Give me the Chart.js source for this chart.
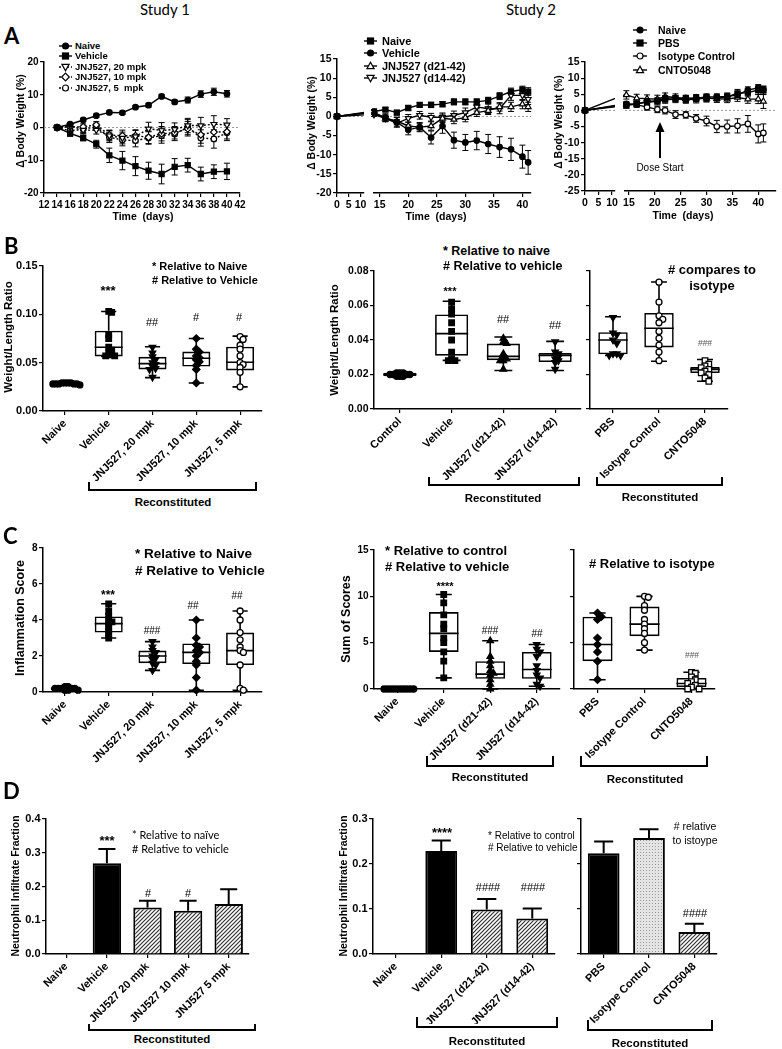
<!DOCTYPE html>
<html>
<head>
<meta charset="utf-8">
<script src="https://cdn.jsdelivr.net/npm/chart.js@4.4.1/dist/chart.umd.min.js"></script>
<style>
html,body{margin:0;padding:0;background:#fff;}
body{position:relative;width:782px;height:1049px;overflow:hidden;font-family:"Liberation Sans",Arial,sans-serif;}
canvas{position:absolute;}
.t{position:absolute;white-space:pre;line-height:1;color:#000;}
.br{position:absolute;box-sizing:border-box;border:2px solid #000;border-top:none;}
svg{position:absolute;overflow:visible;}
</style>
</head>
<body>
<script>
// ================= DATA =================
// Panel A, Study 1
const daysS1 = [14,16,18,20,22,24,26,28,30,32,34,36,38,40];
const s1Labels = ['Naive','Vehicle','JNJ527, 20 mpk','JNJ527, 10 mpk','JNJ527, 5  mpk'];
const s1Naive = [0,1.0,2.3,3.6,4.6,4.5,6.2,6.8,9.5,7.8,8.4,10.2,10.9,10.3];
const s1NaiveErr = [0,0.4,0.5,0.5,0.5,0.5,0.5,0.6,0.6,0.6,0.9,1.0,1.1,1.0];
const s1Vehicle = [0,-1.8,-3.2,-5.1,-8.5,-10.1,-11.8,-13.2,-14.2,-12.0,-11.5,-14.2,-13.5,-13.4];
const s1VehicleErr = [0,0.9,0.9,1.2,2.2,2.8,2.9,2.6,3.0,2.5,2.1,2.1,2.1,2.5];
const s1Jnj20 = [0,0.6,-0.8,-0.8,-2.5,-3.2,-2.8,-0.4,-0.9,-0.6,0.6,0.6,1.0,0.8];
const s1Jnj20Err = [0,0.6,1.0,1.2,1.6,1.8,1.9,2.0,2.4,2.0,2.2,2.5,2.6,1.9];
const s1Jnj10 = [0,0.2,0.2,0.8,-2.3,-2.5,-2.5,-3.0,-1.9,-1.6,-0.4,-2.2,-1.4,-1.3];
const s1Jnj10Err = [0,0.6,0.9,1.0,1.5,1.7,1.8,1.9,2.2,1.9,2.2,2.6,2.7,2.2];
const s1Jnj5 = [0,-1.0,-0.5,0.2,-3.0,-3.8,-4.0,-3.2,-2.5,-2.0,0.1,-3.2,-3.5,-1.6];
const s1Jnj5Err = [0,0.7,1.0,1.1,1.6,1.8,1.9,1.9,2.3,2.0,2.3,2.5,2.8,2.4];
const s1XTicks = [12,14,16,18,20,22,24,26,28,30,32,34,36,38,40,42];
const s1YTicks = [-20,-10,0,10,20];

// Panel A, Study 2 (left)
const daysS2 = [0,14,16,18,20,22,24,26,28,30,32,34,36,38,40,41];
const s2Labels = ['Naive','Vehicle','JNJ527 (d21-42)','JNJ527 (d14-42)'];
const s2Naive = [0,1.3,1.8,1.0,2.2,3.0,3.0,3.2,3.8,3.8,3.8,4.2,5.3,6.5,7.0,6.5];
const s2NaiveErr = [0,0.5,0.5,0.6,0.6,0.6,0.7,0.7,0.8,0.8,0.8,0.8,0.9,0.9,0.9,1.0];
const s2Vehicle = [0,1.0,-0.3,-1.5,-3.5,-2.8,-5.5,-2.5,-6.2,-6.8,-6.3,-7.2,-8.0,-8.6,-10.5,-12.0];
const s2VehicleErr = [0,0.5,1.0,1.2,1.3,1.2,1.7,1.9,2.1,2.1,2.4,2.5,2.7,2.9,3.0,3.1];
const s2JnjD21 = [0,1.0,-0.5,-1.2,-2.5,-2.8,-2.5,-0.5,-0.8,-0.3,1.0,1.5,2.5,2.5,3.2,2.5];
const s2JnjD21Err = [0,0.5,0.8,1.0,1.0,1.0,1.1,1.1,1.1,1.1,1.0,1.0,1.1,1.2,1.2,1.2];
const s2JnjD14 = [0,0.5,-0.5,-1.8,-0.5,0.3,-0.2,-0.2,0.3,1.0,2.5,2.0,2.0,5.5,5.5,4.5];
const s2JnjD14Err = [0,0.5,0.9,1.0,1.0,1.0,1.0,1.1,1.1,1.2,1.1,1.2,1.3,1.3,1.3,1.4];
const s2YTicks = [-20,-15,-10,-5,0,5,10,15];

// Panel A, Study 2 (right)
const daysS2b = [0,14.5,16.5,18.5,20.5,22,24,26,28,30,32,34,36,38,40,41];
const s2bLabels = ['Naive','PBS','Isotype Control','CNTO5048'];
const s2bNaive = [0,1.8,2.0,2.8,3.0,3.8,3.8,3.8,3.8,4.2,4.2,4.3,4.8,6.3,7.0,6.5];
const s2bNaiveErr = [0,0.6,0.7,0.7,0.7,0.8,0.8,0.8,0.8,0.9,0.9,0.9,0.9,1.0,1.0,1.0];
const s2bPbs = [0,1.5,2.0,2.5,2.8,3.3,3.5,3.3,3.5,3.8,3.8,4.2,5.3,5.5,6.3,6.2];
const s2bPbsErr = [0,0.8,1.0,1.0,1.1,1.1,1.1,1.1,1.2,1.2,1.2,1.2,1.2,1.3,1.3,1.3];
const s2bIso = [0,2.0,1.8,1.0,0.3,0.0,-1.3,-1.4,-2.5,-3.3,-5.0,-5.0,-4.8,-4.2,-7.3,-7.0];
const s2bIsoErr = [0,0.7,0.8,0.9,1.0,1.1,1.2,1.0,1.2,1.5,1.9,2.0,2.2,2.6,2.8,2.8];
const s2bCnto = [0,4.8,3.8,3.6,3.5,4.3,4.0,3.6,3.8,3.8,3.6,3.5,4.0,3.5,3.5,2.8];
const s2bCntoErr = [0,1.3,1.2,1.2,1.2,1.1,1.1,1.1,1.1,1.1,1.1,1.1,1.2,1.3,1.4,2.2];
const s2bYTicks = [-25,-20,-15,-10,-5,0,5,10,15];
const brokenLeftTicks = [0,5,10];
const brokenRightTicks = [15,20,25,30,35,40];

// Panel B
const b1Cats = ['Naive','Vehicle','JNJ527, 20 mpk','JNJ527, 10 mpk','JNJ527, 5 mpk'];
const b1Points = [
  [0.029,0.028,0.029,0.028,0.028,0.029,0.027,0.028,0.029,0.028],
  [0.103,0.102,0.079,0.075,0.066,0.063,0.060,0.058,0.057,0.057],
  [0.066,0.060,0.056,0.053,0.050,0.048,0.046,0.044,0.043,0.035],
  [0.075,0.064,0.061,0.057,0.055,0.053,0.051,0.047,0.043,0.029],
  [0.077,0.074,0.068,0.064,0.057,0.050,0.048,0.045,0.040,0.025]
];
const b1Q1 = [0.0275,0.0565,0.0430,0.0460,0.0420];
const b1Med = [0.0283,0.0660,0.0490,0.0545,0.0505];
const b1Q3 = [0.0290,0.0830,0.0560,0.0615,0.0665];
const b1Min = [0.0270,0.0565,0.0345,0.0290,0.0250];
const b1Max = [0.0295,0.1030,0.0665,0.0750,0.0775];
const b1YTicks = [0,0.05,0.10,0.15];

const b2Cats = ['Control','Vehicle','JNJ527 (d21-42)','JNJ527 (d14-42)'];
const b2Points = [
  [0.021,0.020,0.019,0.021,0.020,0.019,0.020,0.021,0.019,0.020],
  [0.062,0.058,0.055,0.050,0.045,0.040,0.033,0.029,0.028,0.028],
  [0.041,0.039,0.038,0.032,0.030,0.029,0.028,0.028,0.023],
  [0.039,0.033,0.032,0.031,0.030,0.029,0.028,0.027,0.023]
];
const b2Q1 = [0.0190,0.0309,0.0283,0.0272];
const b2Med = [0.0200,0.0437,0.0305,0.0310];
const b2Q3 = [0.0210,0.0548,0.0379,0.0324];
const b2Min = [0.0185,0.0282,0.0223,0.0223];
const b2Max = [0.0215,0.0625,0.0417,0.0392];

const b3Cats = ['PBS','Isotype Control','CNTO5048'];
const b3Points = [
  [0.053,0.044,0.043,0.040,0.038,0.032,0.032,0.031,0.031],
  [0.0735,0.062,0.054,0.052,0.050,0.045,0.041,0.037,0.033,0.028],
  [0.028,0.026,0.025,0.024,0.023,0.022,0.021,0.020,0.018,0.016]
];
const b3Q1 = [0.0317,0.0357,0.0208];
const b3Med = [0.0400,0.0468,0.0230];
const b3Q3 = [0.0445,0.0557,0.0243];
const b3Min = [0.0310,0.0277,0.0161];
const b3Max = [0.0535,0.0736,0.0287];
const b2YTicks = [0,0.02,0.04,0.06,0.08];

// Panel C
const c1Cats = ['Naive','Vehicle','JNJ527, 20 mpk','JNJ527, 10 mpk','JNJ527, 5 mpk'];
const c1Points = [
  [0.1,0.2,0.3,0.2,0.2,0.1,0.3,0.2,0.1,0.2],
  [4.9,4.5,4.2,4.0,3.9,3.8,3.6,3.4,3.2,3.0],
  [2.8,2.5,2.3,2.2,2.0,1.9,1.8,1.6,1.5,1.2],
  [4.0,3.0,2.6,2.5,2.3,2.2,2.0,1.7,1.5,0.8,0.1],
  [4.5,4.0,3.3,2.9,2.5,2.3,2.2,1.5,0.2,0.1]
];
const c1Q1 = [0.1,3.3,1.6,1.55,1.5];
const c1Med = [0.2,3.8,2.0,2.2,2.3];
const c1Q3 = [0.25,4.2,2.3,2.7,3.3];
const c1Min = [0.1,3.0,1.2,0.1,0.1];
const c1Max = [0.3,4.9,2.8,4.0,4.5];
const c1YTicks = [0,2,4,6,8];

const c2Cats = ['Naive','Vehicle','JNJ527 (d21-42)','JNJ527 (d14-42)'];
const c2Points = [
  [0,0,0,0,0,0,0,0,0,0],
  [10.2,9.3,8.0,7.0,6.5,5.5,5.0,4.0,3.0,1.2],
  [5.2,3.5,3.0,2.5,2.0,1.7,1.5,1.0,0.5,0.0],
  [4.8,4.3,4.0,3.5,2.5,2.0,1.5,1.2,0.5,0.3]
];
const c2Q1 = [0,4.0,1.1,1.1];
const c2Med = [0,6.0,1.6,2.1];
const c2Q3 = [0,8.3,3.0,4.0];
const c2Min = [0,1.2,0.0,0.3];
const c2Max = [0,10.2,5.2,4.8];

const c3Cats = ['PBS','Isotype Control','CNTO5048'];
const c3Points = [
  [8.2,7.8,7.5,5.5,4.8,4.0,3.0,1.0],
  [10.0,9.9,9.0,8.5,7.5,7.0,6.5,6.0,5.0,4.2],
  [1.8,1.7,1.3,1.0,0.8,0.6,0.4,0.2,0.0,0.0]
];
const c3Q1 = [3.0,5.7,0.2];
const c3Med = [4.8,7.0,0.6];
const c3Q3 = [7.8,8.9,1.2];
const c3Min = [1.0,4.2,0.0];
const c3Max = [8.2,10.0,1.8];
const c2YTicks = [0,5,10,15];

// Panel D
const d1Cats = ['Naive','Vehicle','JNJ527 20 mpk','JNJ527 10 mpk','JNJ527 5 mpk'];
const d1Vals = [0,0.269,0.138,0.128,0.148];
const d1Err = [0,0.042,0.020,0.030,0.044];
const d1YTicks = [0,0.1,0.2,0.3,0.4];
const d2Cats = ['Naive','Vehicle','JNJ527 (d21-42)','JNJ527 (d14-42)'];
const d2Vals = [0,0.229,0.099,0.079];
const d2Err = [0,0.023,0.023,0.022];
const d3Cats = ['PBS','Isotype Control','CNTO5048'];
const d3Vals = [0.224,0.258,0.049];
const d3Err = [0.026,0.019,0.018];
const d2YTicks = [0,0.1,0.2,0.3];

// ================= RENDER =================
const FONT = '"Liberation Sans", Arial, sans-serif';
const LATO = 'Lato, "Open Sans", sans-serif';
Chart.defaults.font.family = FONT;
Chart.defaults.font.weight = 'bold';
Chart.defaults.color = '#000';
Chart.defaults.animation = false;
Chart.defaults.responsive = false;
Chart.defaults.events = [];
Chart.defaults.plugins.legend.display = false;
Chart.defaults.plugins.tooltip.enabled = false;

const PS = {circle:['circle',0,3], rect:['rect',0,3.9], tri:['triangle',0,3.7], tridown:['triangle',180,3.7], diamond:['rectRot',0,3.7]};

function mk(p, m) {
  const c = document.createElement('canvas');
  const w = p.r - p.l + m.l + m.r, h = p.b - p.t + m.t + m.b;
  c.width = w; c.height = h;
  c.style.left = (p.l - m.l) + 'px'; c.style.top = (p.t - m.t) + 'px';
  c.style.width = w + 'px'; c.style.height = h + 'px';
  document.body.appendChild(c);
  return c;
}
function gridOpt() { return {display:true, drawOnChartArea:false, drawTicks:true, tickLength:4, color:'#000', lineWidth:1.2, offset:false}; }
function borderOpt() { return {display:true, color:'#000', width:1.5}; }
function axisX(m, o) {
  const a = {
    type: o.type || 'linear', offset: !!o.offset,
    afterFit: s => { s.height = m.b; },
    border: borderOpt(), grid: gridOpt(),
    ticks: {color:'#000', padding: o.pad != null ? o.pad : 2, autoSkip:false, maxRotation:o.rot||0, minRotation:o.rot||0,
            font:{size:o.fs||11, weight:'bold', family:FONT}}
  };
  if (o.min != null) a.min = o.min;
  if (o.max != null) a.max = o.max;
  if (o.ticks) a.afterBuildTicks = s => { s.ticks = o.ticks.map(v => ({value:v})); };
  if (o.cb) a.ticks.callback = o.cb;
  return a;
}
function axisY(m, o) {
  const a = {
    type:'linear', min:o.min, max:o.max, display: o.display !== false,
    afterBuildTicks: s => { s.ticks = o.ticks.map(v => ({value:v})); },
    border: borderOpt(), grid: gridOpt(),
    ticks: {display: o.labels !== false, color:'#000', padding:1.5, font:{size:o.fs||11, weight:'bold', family:FONT},
            callback: o.cb || (v => String(v))}
  };
  if (o.display !== false) a.afterFit = s => { s.width = m.l; };
  return a;
}

const zeroLine = {id:'zeroLine', beforeDatasetsDraw(chart) {
  const {ctx, chartArea:a} = chart; const py = chart.scales.y.getPixelForValue(0);
  ctx.save(); ctx.strokeStyle = '#9a9a9a'; ctx.lineWidth = 1; ctx.setLineDash([2,2]);
  ctx.beginPath(); ctx.moveTo(a.left, py); ctx.lineTo(a.right, py); ctx.stroke(); ctx.restore();
}};
const errPlugin = {id:'errbars', beforeDatasetsDraw(chart) {
  const {ctx} = chart; const xs = chart.scales.x, ys = chart.scales.y;
  ctx.save(); ctx.strokeStyle = '#000'; ctx.lineWidth = 1;
  chart.data.datasets.forEach(ds => {
    if (!ds.errors) return;
    ds.data.forEach((p, i) => {
      const e = ds.errors[i]; if (!e) return;
      if (p.x < xs.min || p.x > xs.max) return;
      const px = xs.getPixelForValue(p.x), y1 = ys.getPixelForValue(p.y - e), y2 = ys.getPixelForValue(p.y + e);
      ctx.beginPath(); ctx.moveTo(px, y1); ctx.lineTo(px, y2);
      ctx.moveTo(px-3, y1); ctx.lineTo(px+3, y1); ctx.moveTo(px-3, y2); ctx.lineTo(px+3, y2); ctx.stroke();
    });
  });
  ctx.restore();
}};
const boxPlugin = {id:'boxw', afterDatasetDraw(chart, args) {
  const ds = chart.data.datasets[args.index];
  if (!ds.medians) return;
  const ys = chart.scales.y, ctx = chart.ctx;
  ctx.save(); ctx.strokeStyle = '#000'; ctx.lineWidth = 1.6;
  args.meta.data.forEach((bar, i) => {
    const x = bar.x, hw = bar.width/2, cw = bar.width*0.27;
    const yq1 = ys.getPixelForValue(ds.data[i].y[0]), yq3 = ys.getPixelForValue(ds.data[i].y[1]);
    const ym = ys.getPixelForValue(ds.medians[i]), ymin = ys.getPixelForValue(ds.mins[i]), ymax = ys.getPixelForValue(ds.maxs[i]);
    ctx.beginPath();
    ctx.moveTo(x-hw, ym); ctx.lineTo(x+hw, ym);
    ctx.moveTo(x, yq3); ctx.lineTo(x, ymax); ctx.moveTo(x-cw, ymax); ctx.lineTo(x+cw, ymax);
    ctx.moveTo(x, yq1); ctx.lineTo(x, ymin); ctx.moveTo(x-cw, ymin); ctx.lineTo(x+cw, ymin);
    ctx.stroke();
  });
  ctx.restore();
}};
const barErr = {id:'barErr', afterDatasetsDraw(chart) {
  const ctx = chart.ctx, ys = chart.scales.y;
  chart.data.datasets.forEach((ds, di) => {
    if (!ds.errors) return;
    chart.getDatasetMeta(di).data.forEach((bar, i) => {
      const e = ds.errors[i], v = ds.data[i]; if (!e) return;
      const x = bar.x, w = bar.width, y0 = ys.getPixelForValue(v), y1 = ys.getPixelForValue(v + e);
      ctx.save(); ctx.strokeStyle = '#000'; ctx.lineWidth = 2;
      ctx.beginPath(); ctx.moveTo(x, y0); ctx.lineTo(x, y1); ctx.moveTo(x - w*0.3, y1); ctx.lineTo(x + w*0.3, y1); ctx.stroke();
      ctx.restore();
    });
  });
}};

function lineChart(p, m, o) {
  const c = mk(p, m);
  const datasets = o.series.map(s => {
    const st = PS[s.shape];
    return {
      type:'line', data: o.days.map((d, i) => ({x:d, y:s.v[i]})), errors: s.e,
      borderColor:'#000', borderWidth:1.4, borderDash: s.dash ? [2,2] : [],
      pointStyle: st[0], pointRotation: st[1], pointRadius: st[2]*0.92,
      pointBackgroundColor: s.fill ? '#000' : '#fff', pointBorderColor:'#000', pointBorderWidth:1.2,
      tension:0, fill:false, clip: o.clip
    };
  });
  return new Chart(c, {
    type:'line', data:{datasets},
    options:{
      layout:{padding:{left: o.showY ? 0 : m.l, right:m.r, top:m.t, bottom:0}},
      scales:{
        x: axisX(m, {min:o.xMin, max:o.xMax, ticks:o.xTicks, fs:o.fs||10.5, pad:2}),
        y: axisY(m, {min:o.yMin, max:o.yMax, ticks:o.yTicks, display:o.showY, fs:o.fs||10.5})
      }
    },
    plugins:[zeroLine, errPlugin]
  });
}

function swarm(vals, pxY, pxX, step, maxOff) {
  const placed = [], out = new Array(vals.length);
  const order = vals.map((v, i) => i).sort((a, b) => vals[b] - vals[a]);
  order.forEach(i => {
    const y = vals[i] * pxY;
    let off = 0;
    for (let k = 0; k < 60; k++) {
      off = k === 0 ? 0 : (k % 2 ? 1 : -1) * Math.ceil(k/2) * step;
      if (!placed.some(q => Math.hypot(q.x - off, q.y - y) < step * 0.999)) break;
    }
    off = Math.max(-maxOff, Math.min(maxOff, off));
    placed.push({x:off, y}); out[i] = off / pxX;
  });
  return out;
}

function boxChart(p, m, o) {
  const c = mk(p, m);
  const n = o.labels.length;
  const pxY = (p.b - p.t) / (o.yMax - o.yMin), pxX = (p.r - p.l) / n;
  const datasets = [];
  o.points.forEach((vals, i) => {
    const st = PS[o.shapes[i]];
    const offs = swarm(vals, pxY, pxX, o.step || 3.3, 0.36 * pxX);
    datasets.push({type:'scatter', data: vals.map((v, k) => ({x: i + offs[k], y: v})),
      pointStyle: st[0], pointRotation: st[1], pointRadius: st[2],
      pointBackgroundColor: o.fills[i] ? '#000' : '#fff', pointBorderColor:'#000', pointBorderWidth:1.3,
      order:1, clip:false});
  });
  datasets.push({type:'bar', data: o.labels.map((_, i) => ({x:i, y:[o.q1[i], o.q3[i]]})),
    medians:o.med, mins:o.min, maxs:o.max,
    backgroundColor:'rgba(255,255,255,0)', borderColor:'#000', borderWidth:1.6, borderSkipped:false,
    barPercentage:0.64, categoryPercentage:1, order:10});
  return new Chart(c, {
    type:'scatter', data:{datasets},
    options:{
      layout:{padding:{left:0, right:m.r, top:m.t, bottom:0}},
      scales:{
        x: axisX(m, {min:-0.5, max:n-0.5, ticks:o.labels.map((_, i) => i), rot:45, cb: v => o.labels[v], fs:11, pad:2}),
        y: axisY(m, {min:o.yMin, max:o.yMax, ticks:o.yTicks, labels:o.yLabels !== false, cb:o.yFmt, fs:o.yfs||11})
      }
    },
    plugins:[boxPlugin]
  });
}

function hatchPattern(ctx) {
  const pc = document.createElement('canvas'); pc.width = pc.height = 4;
  const g = pc.getContext('2d'); g.fillStyle = '#fff'; g.fillRect(0, 0, 4, 4);
  g.strokeStyle = '#333'; g.lineWidth = 1.2;
  g.beginPath(); g.moveTo(0, 4); g.lineTo(4, 0); g.moveTo(-1, 1); g.lineTo(1, -1); g.moveTo(3, 5); g.lineTo(5, 3); g.stroke();
  return ctx.createPattern(pc, 'repeat');
}
function stipplePattern(ctx) {
  const pc = document.createElement('canvas'); pc.width = pc.height = 3;
  const g = pc.getContext('2d'); g.fillStyle = '#e4e4e4'; g.fillRect(0, 0, 3, 3);
  g.fillStyle = '#9a9a9a'; g.fillRect(1, 1, 1, 1);
  return ctx.createPattern(pc, 'repeat');
}
function barChart(p, m, o) {
  const c = mk(p, m);
  const ctx = c.getContext('2d');
  const fills = o.fills.map(f => f === 'solid' ? '#000' : f === 'hatch' ? hatchPattern(ctx) : stipplePattern(ctx));
  return new Chart(c, {
    type:'bar',
    data:{labels:o.labels, datasets:[{data:o.v, errors:o.e, backgroundColor:fills, borderColor:'#000', borderWidth:2,
      borderSkipped:'start', barPercentage:0.7, categoryPercentage:1}]},
    options:{
      layout:{padding:{left:0, right:m.r, top:m.t, bottom:0}},
      scales:{
        x: axisX(m, {type:'category', offset:true, rot:45, fs:11, pad:2}),
        y: axisY(m, {min:0, max:o.yMax, ticks:o.yTicks, labels:o.yLabels !== false, cb: v => v.toFixed(1), fs:11})
      }
    },
    plugins:[barErr]
  });
}

// ---------- text helpers ----------
function T(text, x, y, o = {}) {
  const d = document.createElement('div');
  d.className = 't'; d.textContent = text;
  const s = d.style;
  s.left = x + 'px'; s.top = y + 'px';
  s.fontSize = (o.size || 11) + 'px';
  s.fontWeight = o.bold === false ? 'normal' : 'bold';
  if (o.font) s.fontFamily = o.font;
  if (o.color) s.color = o.color;
  const ax = o.align === 'left' ? '0' : (o.align === 'right' ? '-100%' : '-50%');
  s.transform = 'translate(' + ax + ',-50%)' + (o.rot ? ' rotate(' + o.rot + 'deg)' : '');
  document.body.appendChild(d);
}
function bracket(l, r, t, b) {
  const d = document.createElement('div'); d.className = 'br';
  d.style.left = l + 'px'; d.style.top = t + 'px'; d.style.width = (r - l) + 'px'; d.style.height = (b - t) + 'px';
  document.body.appendChild(d);
}
function shapeSVG(shape, x, y, fill) {
  const st = 'fill="' + (fill ? '#000' : '#fff') + '" stroke="#000" stroke-width="1.2"';
  if (shape === 'circle') return '<circle cx="'+x+'" cy="'+y+'" r="3" '+st+'/>';
  if (shape === 'rect') return '<rect x="'+(x-3)+'" y="'+(y-3)+'" width="6" height="6" '+st+'/>';
  if (shape === 'tri') return '<polygon points="'+x+','+(y-3.8)+' '+(x-3.6)+','+(y+2.6)+' '+(x+3.6)+','+(y+2.6)+'" '+st+'/>';
  if (shape === 'tridown') return '<polygon points="'+x+','+(y+3.8)+' '+(x-3.6)+','+(y-2.6)+' '+(x+3.6)+','+(y-2.6)+'" '+st+'/>';
  return '<polygon points="'+x+','+(y-3.8)+' '+(x+3.8)+','+y+' '+x+','+(y+3.8)+' '+(x-3.8)+','+y+'" '+st+'/>';
}
function legend(series, labels, x1, x2, tx, y0, dy, fs) {
  series.forEach((s, k) => {
    const y = y0 + k * dy, w = x2 - x1;
    const svg = document.createElementNS('http://www.w3.org/2000/svg', 'svg');
    svg.setAttribute('width', w); svg.setAttribute('height', 12);
    svg.style.left = x1 + 'px'; svg.style.top = (y - 6) + 'px';
    svg.innerHTML = '<line x1="0" y1="6" x2="'+w+'" y2="6" stroke="#000" stroke-width="1.4"'+(s.dash?' stroke-dasharray="2,2"':'')+'/>' + shapeSVG(s.shape, w/2, 6, s.fill);
    document.body.appendChild(svg);
    T(labels[k], tx, y, {size:fs, align:'left'});
  });
}

// ---------- Panel A ----------
const s1Series = [
  {v:s1Naive, e:s1NaiveErr, shape:'circle', fill:true},
  {v:s1Vehicle, e:s1VehicleErr, shape:'rect', fill:true},
  {v:s1Jnj20, e:s1Jnj20Err, shape:'tridown', fill:false, dash:true},
  {v:s1Jnj10, e:s1Jnj10Err, shape:'diamond', fill:false, dash:true},
  {v:s1Jnj5, e:s1Jnj5Err, shape:'circle', fill:false, dash:true}
];
lineChart({l:44, t:62, r:240, b:193}, {l:44, t:10, r:10, b:24},
  {days:daysS1, series:s1Series, xMin:12, xMax:42, xTicks:s1XTicks, yMin:-20, yMax:20, yTicks:s1YTicks, showY:true, fs:10, clip:4});

const s2Series = [
  {v:s2Naive, e:s2NaiveErr, shape:'rect', fill:true},
  {v:s2Vehicle, e:s2VehicleErr, shape:'circle', fill:true},
  {v:s2JnjD21, e:s2JnjD21Err, shape:'tri', fill:false},
  {v:s2JnjD14, e:s2JnjD14Err, shape:'tridown', fill:false}
];
lineChart({l:337, t:59, r:364, b:193}, {l:40, t:10, r:6, b:24},
  {days:daysS2, series:s2Series, xMin:0, xMax:11.5, xTicks:brokenLeftTicks, yMin:-20, yMax:15, yTicks:s2YTicks, showY:true,
   clip:{left:6, right:0, top:6, bottom:6}});
lineChart({l:374, t:59, r:531, b:193}, {l:8, t:10, r:8, b:24},
  {days:daysS2, series:s2Series, xMin:14, xMax:41.5, xTicks:brokenRightTicks, yMin:-20, yMax:15, yTicks:s2YTicks, showY:false,
   clip:{left:2, right:6, top:6, bottom:6}});

const s2bSeries = [
  {v:s2bNaive, e:s2bNaiveErr, shape:'circle', fill:true},
  {v:s2bPbs, e:s2bPbsErr, shape:'rect', fill:true},
  {v:s2bIso, e:s2bIsoErr, shape:'circle', fill:false},
  {v:s2bCnto, e:s2bCntoErr, shape:'tri', fill:false}
];
lineChart({l:585, t:62, r:615, b:191}, {l:40, t:10, r:6, b:24},
  {days:daysS2b, series:s2bSeries, xMin:0, xMax:11.1, xTicks:brokenLeftTicks, yMin:-25, yMax:15, yTicks:s2bYTicks, showY:true,
   clip:{left:6, right:0, top:6, bottom:6}});
lineChart({l:625, t:62, r:779, b:191}, {l:8, t:10, r:2, b:24},
  {days:daysS2b, series:s2bSeries, xMin:14.24, xMax:43.4, xTicks:brokenRightTicks, yMin:-25, yMax:15, yTicks:s2bYTicks, showY:false,
   clip:{left:2, right:6, top:6, bottom:6}});

// ---------- Panel B ----------
const fmt2 = v => v.toFixed(2);
boxChart({l:43, t:266, r:262, b:411}, {l:43, t:10, r:8, b:70},
  {labels:b1Cats, points:b1Points, shapes:['circle','rect','tridown','diamond','circle'], fills:[1,1,1,1,0],
   q1:b1Q1, med:b1Med, q3:b1Q3, min:b1Min, max:b1Max, yMin:0, yMax:0.15, yTicks:b1YTicks, yFmt:fmt2, step:3});
boxChart({l:374, t:271, r:581, b:409}, {l:44, t:10, r:6, b:80},
  {labels:b2Cats, points:b2Points, shapes:['circle','rect','tri','tridown'], fills:[1,1,1,1],
   q1:b2Q1, med:b2Med, q3:b2Q3, min:b2Min, max:b2Max, yMin:0, yMax:0.08, yTicks:b2YTicks, yFmt:fmt2, yfs:10.5});
boxChart({l:590, t:271, r:728, b:409}, {l:8, t:10, r:8, b:80},
  {labels:b3Cats, points:b3Points, shapes:['tridown','circle','rect'], fills:[1,0,0],
   q1:b3Q1, med:b3Med, q3:b3Q3, min:b3Min, max:b3Max, yMin:0, yMax:0.08, yTicks:b2YTicks, yLabels:false, step:3.8});

// ---------- Panel C ----------
boxChart({l:43, t:548, r:262, b:692}, {l:43, t:10, r:8, b:80},
  {labels:c1Cats, points:c1Points, shapes:['circle','rect','tridown','diamond','circle'], fills:[1,1,1,1,0],
   q1:c1Q1, med:c1Med, q3:c1Q3, min:c1Min, max:c1Max, yMin:0, yMax:8, yTicks:c1YTicks, yfs:10});
boxChart({l:374, t:550, r:560, b:689}, {l:44, t:10, r:6, b:80},
  {labels:c2Cats, points:c2Points, shapes:['circle','rect','tri','tridown'], fills:[1,1,1,1],
   q1:c2Q1, med:c2Med, q3:c2Q3, min:c2Min, max:c2Max, yMin:0, yMax:15, yTicks:c2YTicks, yfs:10});
boxChart({l:574, t:550, r:715, b:689}, {l:8, t:10, r:8, b:80},
  {labels:c3Cats, points:c3Points, shapes:['diamond','circle','rect'], fills:[1,0,0],
   q1:c3Q1, med:c3Med, q3:c3Q3, min:c3Min, max:c3Max, yMin:0, yMax:15, yTicks:c2YTicks, yLabels:false, step:3.8});

// ---------- Panel D ----------
barChart({l:46, t:819, r:249, b:954}, {l:46, t:10, r:8, b:70},
  {labels:d1Cats, v:d1Vals, e:d1Err, fills:['solid','solid','hatch','hatch','hatch'], yMax:0.4, yTicks:d1YTicks});
barChart({l:373, t:819, r:555, b:954}, {l:44, t:10, r:6, b:70},
  {labels:d2Cats, v:d2Vals, e:d2Err, fills:['solid','solid','hatch','hatch'], yMax:0.3, yTicks:d2YTicks});
barChart({l:581, t:819, r:717, b:954}, {l:8, t:10, r:8, b:70},
  {labels:d3Cats, v:d3Vals, e:d3Err, fills:['solid','stipple','hatch'], yMax:0.3, yTicks:d2YTicks, yLabels:false});

// ---------- Texts ----------
T('Study 1', 165, 8.5, {size:15, bold:false, font:LATO});
T('Study 2', 531, 8.5, {size:15, bold:false, font:LATO});
T('A', 4, 35.5, {size:22, font:LATO, align:'left'});
T('B', 4, 245.5, {size:22, font:LATO, align:'left'});
T('C', 3, 536, {size:22, font:LATO, align:'left'});
T('D', 3, 791, {size:22, font:LATO, align:'left'});

// A
T('Time  (days)', 143, 216, {size:10.5});
T('Time  (days)', 436, 216, {size:10.5});
T('Time  (days)', 683, 215, {size:10.5});
T('\u0394 Body Weight (%)', 20, 121, {size:10.5, rot:-90});
T('\u0394 Body Weight (%)', 311, 123, {size:10.5, rot:-90});
T('\u0394 Body Weight (%)', 558, 122, {size:10.5, rot:-90});
legend(s1Series, s1Labels, 59, 72, 75, 46, 10.4, 9.5);
legend(s2Series, s2Labels, 364, 377, 382, 41, 12.3, 11);
legend(s2bSeries, s2bLabels, 633, 647, 658, 30, 13.2, 10.5);
(function(){
  const svg = document.createElementNS('http://www.w3.org/2000/svg', 'svg');
  svg.setAttribute('width', 16); svg.setAttribute('height', 40);
  svg.style.left = '652px'; svg.style.top = '120px';
  svg.innerHTML = '<line x1="8" y1="9" x2="8" y2="38" stroke="#000" stroke-width="2"/><polygon points="8,2 3.5,12 12.5,12" fill="#000"/>';
  document.body.appendChild(svg);
})();
T('Dose Start', 660, 168, {size:10, bold:false});

// B
T('Weight/Length Ratio', 9, 337, {size:11.5, rot:-90});
T('Weight/Length Ratio', 335, 340, {size:11.5, rot:-90});
T('* Relative to Naive', 152, 266, {size:11, align:'left'});
T('# Relative to Vehicle', 152, 280, {size:11, align:'left'});
T('***', 108, 290, {size:13});
T('##', 152, 322, {size:11, bold:false});
T('#', 196, 317, {size:11, bold:false});
T('#', 239, 317, {size:11, bold:false});
T('* Relative to naive', 443, 251, {size:12.5, align:'left'});
T('# Relative to vehicle', 443, 266, {size:12.5, align:'left'});
T('***', 450, 291, {size:11});
T('##', 503, 319, {size:11, bold:false});
T('##', 555, 325, {size:11, bold:false});
T('# compares to', 712, 269, {size:13});
T('isotype', 712, 285, {size:13});
T('###', 705, 343, {size:8.5, bold:false, color:'#555'});
bracket(88, 257, 482, 491);
T('Reconstituted', 173, 503, {size:11.5});
bracket(428, 580, 477, 486);
T('Reconstituted', 503, 499, {size:11.5});
bracket(596, 723, 477, 486);
T('Reconstituted', 660, 498, {size:11.5});

// C
T('Inflammation Score', 20, 618, {size:12.5, rot:-90});
T('Sum of Scores', 346, 619, {size:12.5, rot:-90});
T('* Relative to Naive', 135, 554, {size:13.5, align:'left'});
T('# Relative to Vehicle', 135, 571, {size:13.5, align:'left'});
T('***', 108, 595, {size:12});
T('###', 152, 631, {size:10, bold:false});
T('##', 193, 606, {size:10, bold:false});
T('##', 237, 596, {size:10, bold:false});
T('* Relative to control', 385, 550, {size:13, align:'left'});
T('# Relative to vehicle', 385, 566, {size:13, align:'left'});
T('****', 445, 586, {size:11});
T('###', 490, 631, {size:10, bold:false});
T('##', 537, 634, {size:10, bold:false});
T('# Relative to isotype', 589, 563, {size:13, align:'left'});
T('###', 692, 655, {size:8.5, bold:false, color:'#555'});
bracket(426, 554, 756, 767);
T('Reconstituted', 490, 778, {size:11.5});
bracket(580, 708, 756, 767);
T('Reconstituted', 645, 780, {size:11.5});

// D
T('Neutrophil Infiltrate Fraction', 15, 886, {size:10.5, rot:-90});
T('Neutrophil Infiltrate Fraction', 343, 886, {size:10.5, rot:-90});
T('***', 107, 840, {size:13});
T('#', 148, 893, {size:11, bold:false});
T('#', 188, 893, {size:11, bold:false});
T('* Relative to na\u00efve', 132, 834, {size:11, bold:false, font:LATO, align:'left'});
T('# Relative to vehicle', 132, 848, {size:11, bold:false, font:LATO, align:'left'});
T('****', 442, 832, {size:13});
T('####', 488, 887, {size:11, bold:false});
T('####', 533, 887, {size:11, bold:false});
T('* Relative to control', 488, 836, {size:10, bold:false, align:'left'});
T('# Relative to vehicle', 488, 848, {size:10, bold:false, align:'left'});
T('# relative', 695, 826, {size:10.5, bold:false});
T('to istoype', 695, 840, {size:10.5, bold:false});
T('####', 695, 913, {size:11, bold:false});
bracket(88, 256, 1024, 1031);
T('Reconstituted', 172, 1040, {size:11.5});
bracket(416, 558, 1017, 1028);
T('Reconstituted', 487, 1042, {size:11.5});
bracket(587, 713, 1020, 1031);
T('Reconstituted', 650, 1044, {size:11.5});
</script>
</body>
</html>
